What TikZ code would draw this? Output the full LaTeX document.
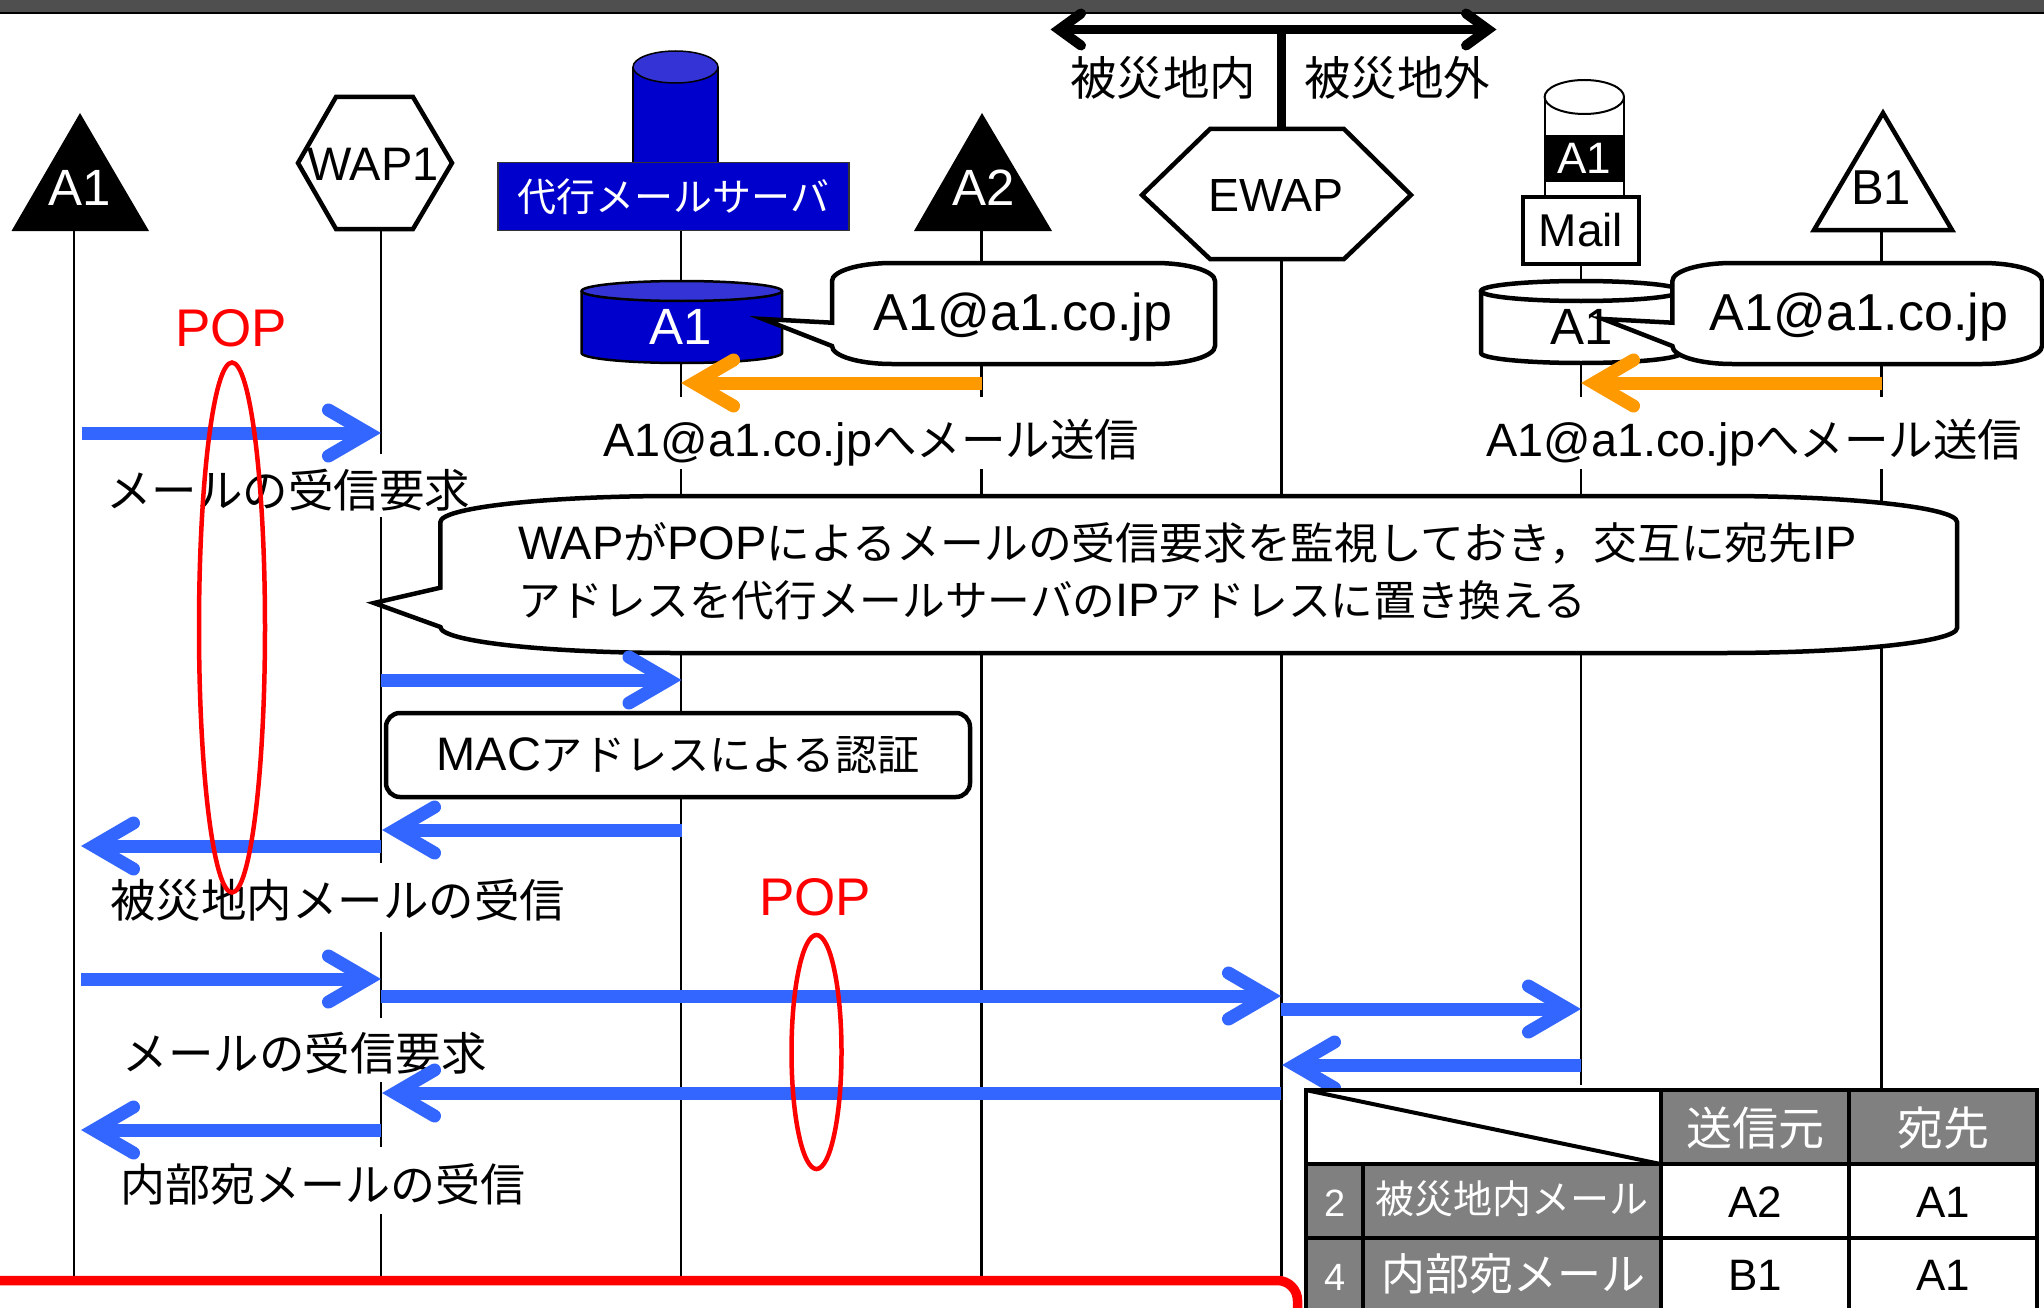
\documentclass[tikz,border=0pt]{standalone}
\usepackage{fontspec}
\setmainfont{Liberation Sans}
\newfontfamily\jp{Noto Sans CJK JP}
\usetikzlibrary{arrows.meta}
\definecolor{flowblue}{HTML}{3366FF}
\definecolor{floworange}{HTML}{FF9900}
\definecolor{srvblue}{HTML}{0000CC}
\definecolor{srvtop}{HTML}{3333D6}
\definecolor{cellgray}{HTML}{808080}
\makeatletter
\pgfdeclarearrow{name=ChevA,
  setup code={\pgfarrowssettipend{0pt}\pgfarrowssetlineend{-14pt}\pgfarrowssetbackend{-60pt}\pgfarrowssetvisualbackend{-14pt}},
  drawing code={\pgfsetlinewidth{13pt}\pgfsetroundcap\pgfsetmiterjoin
    \pgfpathmoveto{\pgfqpoint{-52.5pt}{23pt}}\pgfpathlineto{\pgfqpoint{-13pt}{0pt}}\pgfpathlineto{\pgfqpoint{-52.5pt}{-23pt}}\pgfusepathqstroke}}
\pgfdeclarearrow{name=ChevB,
  setup code={\pgfarrowssettipend{0pt}\pgfarrowssetlineend{-10pt}\pgfarrowssetbackend{-40pt}\pgfarrowssetvisualbackend{-10pt}},
  drawing code={\pgfsetlinewidth{10pt}\pgfsetroundcap\pgfsetmiterjoin
    \pgfpathmoveto{\pgfqpoint{-32pt}{16pt}}\pgfpathlineto{\pgfqpoint{-10pt}{0pt}}\pgfpathlineto{\pgfqpoint{-32pt}{-16pt}}\pgfusepathqstroke}}
\makeatother
\tikzset{
  x=1pt,y=-1pt,
  life/.style={draw=black,line width=2.1pt},
  flow/.style={draw=flowblue,line width=13pt,-{ChevA}},
  mailflow/.style={draw=floworange,line width=13pt,-{ChevA}},
  lab/.style={inner sep=0pt,font=\fontsize{46.8}{54}\selectfont},
  mask/.style={fill=white},
  pure/.style={inner sep=0pt,font=\fontsize{47}{54}\selectfont},
  redt/.style={inner sep=0pt,font=\fontsize{53}{58}\selectfont,text=red},
  redring/.style={draw=red,line width=4.5pt},
  cell/.style={draw=black,line width=4pt},
  hcell/.style={cell,fill=cellgray},
  ctext/.style={inner sep=0pt,text=white,font=\fontsize{46}{52}\selectfont},
}
\newcommand{\J}[1]{{\jp\fontsize{44.5}{52}\selectfont #1}}
\newcommand{\JL}[1]{{\jp\fontsize{45.5}{52}\selectfont #1}}
\newcommand{\JF}[1]{{\jp\fontsize{45}{52}\selectfont #1}}
\newcommand{\JK}[1]{{\jp\fontsize{42.2}{52}\selectfont #1}}
\newcommand{\JM}[1]{{\jp\fontsize{42.7}{52}\selectfont #1}}
\newcommand{\JN}[1]{{\jp\fontsize{43.8}{52}\selectfont #1}}
\begin{document}
\begin{tikzpicture}
\useasboundingbox (0,0) rectangle (2044,1308);
\fill[white] (0,0) rectangle (2044,1308);
\fill[black!69] (0,0) rectangle (2044,12);
\draw[black,line width=2.5pt] (0,13) -- (2044,13);

% lifeline anchors
\coordinate (a1t) at (74,231);   \coordinate (a1b) at (74,1276);
\coordinate (w1t) at (381,229);  \coordinate (w1b) at (381,1276);
\coordinate (svt) at (681,231);  \coordinate (svb) at (681,1276);
\coordinate (a2t) at (981.5,231);\coordinate (a2b) at (981.5,1276);
\coordinate (ewt) at (1281.5,259);\coordinate (ewb) at (1281.5,1276);
\coordinate (mlt) at (1581,264); \coordinate (mlb) at (1581,1085);
\coordinate (b1t) at (1881.5,230);\coordinate (b1b) at (1881.5,1090);
\foreach \s/\e in {a1t/a1b,w1t/w1b,svt/svb,a2t/a2b,ewt/ewb,mlt/mlb,b1t/b1b} \draw[life] (\s) -- (\e);

% left actors
\path[fill=black] (80,113) -- (149,231) -- (11.5,231) -- cycle;
\node[inner sep=0pt,text=white,font=\fontsize{51}{56}\selectfont] (lA1) at (79.5,188) {A1};
\path[draw=black,fill=white,line width=4.5pt,miter limit=4] (336,97) -- (413,97) -- (452,163) -- (413,229) -- (336,229) -- (298,163) -- cycle;
\node[inner sep=0pt,font=\fontsize{47}{52}\selectfont] (lW1) at (373,164) {WAP1};

% server
\path[draw=black,fill=srvblue,line width=1.5pt] (633,67) -- (633,163) -- (718,163) -- (718,67);
\path[draw=black,fill=srvtop,line width=1.5pt] (675.5,67) ellipse [x radius=42.5,y radius=16];
\node[draw=black!80,fill=srvblue,line width=1.5pt,minimum width=351pt,minimum height=68pt,inner sep=0pt,text=white] (server) at (673.3,196.7) {\raisebox{-3pt}{\fontsize{39}{44}\selectfont\jp 代行メールサーバ}};

% A2
\path[fill=black] (982,113) -- (1052,231) -- (914,231) -- cycle;
\node[inner sep=0pt,text=white,font=\fontsize{51}{56}\selectfont] (lA2) at (984,188) {A2};

% white areas behind labels, where the lifelines stop
\path[mask] (602,397) rectangle (1141,469);
\path[mask] (1485,397) rectangle (2024,469);
\path[mask] (104,454) rectangle (472,517);
\path[mask] (108,863) rectangle (567,932);
\path[mask] (120,1018) rectangle (489,1082);
\path[mask] (117,1147) rectangle (528,1214);
\node[lab] (s1) at (871.5,443) {A1@a1.co.jp\J{へメール送信}};
\node[lab] (s2) at (1754.5,443) {A1@a1.co.jp\J{へメール送信}};
\node[lab] (r1) at (288,490) {\JL{メールの受信要求}};
\node[lab] (r2) at (337.5,900) {\JL{被災地内メールの受信}};
\node[lab] (r3) at (304.5,1053) {\JL{メールの受信要求}};
\node[lab] (r4) at (322.5,1184) {\JF{内部宛メールの受信}};

% top double arrow
\coordinate (bl) at (1049,29.5); \coordinate (br) at (1498,29.5); \coordinate (bm) at (1281.5,29.5); \coordinate (bd) at (1281.5,131);
\draw[draw=black,line width=9.5pt,{ChevB}-{ChevB}] (bl) -- (br);
\draw[draw=black,line width=9.5pt] (bm) -- (bd);
\node[pure] (zin) at (1163,78) {\jp\fontsize{46.5}{50}\selectfont 被災地内};
\node[pure] (zout) at (1397,78) {\jp\fontsize{46.5}{50}\selectfont 被災地外};

% EWAP
\path[draw=black,fill=white,line width=4.5pt] (1210,129) -- (1344,129) -- (1411,195) -- (1344,259) -- (1210,259) -- (1142,195) -- cycle;
\node[inner sep=0pt,font=\fontsize{46.5}{52}\selectfont] (lE) at (1276,195.5) {EWAP};

% A1 mail stack
\path[draw=black,fill=white,line width=2pt] (1544.6,97) -- (1544.6,197) -- (1624,197) -- (1624,97);
\path[draw=black,fill=white,line width=2pt] (1584.3,97) ellipse [x radius=39.7,y radius=17];
\node[fill=black,minimum width=79.4pt,minimum height=47pt,inner sep=0pt,text=white,font=\fontsize{44}{50}\selectfont] (lM) at (1584.3,158.5) {\raisebox{-1.5pt}{A1}};
\node[draw=black,fill=white,line width=4.5pt,minimum width=116pt,minimum height=67pt,inner sep=0pt,font=\fontsize{46}{52}\selectfont] (mail) at (1581,230.5) {\raisebox{-1.5pt}{Mail}};

% B1
\path[draw=black,fill=white,line width=4.5pt] (1883,113) -- (1952,230) -- (1814,230) -- cycle;
\node[inner sep=0pt,font=\fontsize{49}{54}\selectfont] (lB1) at (1881,187.5) {B1};

% mailboxes
\path[draw=black,fill=srvblue,line width=2.5pt] (581.6,291) -- (581.6,353) arc[start angle=180,end angle=360,x radius=100.2,y radius=-10] -- (782,291);
\path[draw=black,fill=srvtop,line width=2.5pt] (681.8,291) ellipse [x radius=100.2,y radius=10];
\node[inner sep=0pt,text=white,font=\fontsize{51}{56}\selectfont] (boxA) at (680.5,327) {A1};
\path[draw=black,fill=white,line width=4.5pt] (1481,291) -- (1481,353) arc[start angle=180,end angle=360,x radius=100,y radius=-10] -- (1681,291);
\path[draw=black,fill=white,line width=4.5pt] (1581,291) ellipse [x radius=100,y radius=10];
\node[inner sep=0pt,font=\fontsize{51}{56}\selectfont] (boxB) at (1582,327) {A1};

% small callouts
\path[draw=black,fill=white,line width=4.5pt] (832,281) arc[start angle=180,end angle=90,x radius=60,y radius=-18] -- (1155,263) arc[start angle=90,end angle=0,x radius=60,y radius=-18] -- (1215,346) arc[start angle=0,end angle=-90,x radius=60,y radius=-18] -- (892,364) arc[start angle=-90,end angle=-180,x radius=60,y radius=-18] -- (763,319) -- (832,322.7) -- cycle;
\node[inner sep=0pt,font=\fontsize{52}{58}\selectfont] (c1) at (1023,317) {A1@a1.co.jp};
\path[draw=black,fill=white,line width=4.5pt] (1672.4,281) arc[start angle=180,end angle=90,x radius=60,y radius=-18] -- (1982,263) arc[start angle=90,end angle=0,x radius=60,y radius=-18] -- (2042,346) arc[start angle=0,end angle=-90,x radius=60,y radius=-18] -- (1732.4,364) arc[start angle=-90,end angle=-180,x radius=60,y radius=-18] -- (1603,319) -- (1672.4,322.7) -- cycle;
\node[inner sep=0pt,font=\fontsize{52}{58}\selectfont] (c2) at (1859,317) {A1@a1.co.jp};

% big callout
\path[draw=black,fill=white,line width=4.5pt] (440.4,522) arc[start angle=180,end angle=90,x radius=235,y radius=-26] -- (1722,496) arc[start angle=90,end angle=0,x radius=235,y radius=-26] -- (1957,628) arc[start angle=0,end angle=-90,x radius=235,y radius=-25] -- (675.4,653) arc[start angle=-90,end angle=-180,x radius=235,y radius=-26] -- (374,603) -- (440.4,587.7) -- cycle;
\node[anchor=west,inner sep=0pt,font=\fontsize{47}{52}\selectfont] (bt1) at (518,543) {WAP\JN{が}POP\JN{によるメールの受信要求を監視しておき，交互に宛先}IP};
\node[anchor=west,inner sep=0pt,font=\fontsize{47}{52}\selectfont] (bt2) at (518,600) {\JM{アドレスを代行メールサーバの}IP\JM{アドレスに置き換える}};

% MAC
\node[draw=black,fill=white,line width=4.5pt,rounded corners=14pt,minimum width=584pt,minimum height=84pt,inner sep=0pt,font=\fontsize{47}{52}\selectfont] (mac) at (678,755) {MAC\JK{アドレスによる認証}};

% arrow anchors
\coordinate (f1a) at (81.6,433); \coordinate (f1b) at (381,433);
\coordinate (f2a) at (381,680);  \coordinate (f2b) at (681.5,680);
\coordinate (f3a) at (681.5,830);\coordinate (f3b) at (382,830);
\coordinate (f4a) at (381,846);  \coordinate (f4b) at (81,846);
\coordinate (f5a) at (81,979);   \coordinate (f5b) at (381,979);
\coordinate (f6a) at (381,996);  \coordinate (f6b) at (1281,996);
\coordinate (f7a) at (1281,1009);\coordinate (f7b) at (1581,1009);
\coordinate (f8a) at (1581,1065);\coordinate (f8b) at (1282,1065);
\coordinate (f9a) at (1281,1093);\coordinate (f9b) at (382,1093);
\coordinate (f10a) at (381,1130);\coordinate (f10b) at (81,1130);
\coordinate (o1a) at (981.5,383);\coordinate (o1b) at (681,383);
\coordinate (o2a) at (1881.5,383);\coordinate (o2b) at (1581,383);
\foreach \i in {1,...,10} \draw[flow] (f\i a) -- (f\i b);
\draw[mailflow] (o1a) -- (o1b);
\draw[mailflow] (o2a) -- (o2b);

% POP marks
\node[redt] (pop1) at (231,328) {POP};
\node[redt] (pop2) at (815,897) {POP};
\path[redring] (232,627.5) ellipse [x radius=33,y radius=265];
\path[redring] (816.5,1052) ellipse [x radius=25,y radius=117];

% red frame
\draw[red,line width=9.5pt,rounded corners=20pt] (-20,1280.5) -- (1297.5,1280.5) -- (1297.5,1340);

% table
\path[draw=black,fill=white,line width=4pt] (1305.6,1090) rectangle (1660.5,1164);
\draw[cell] (1305.6,1090) -- (1660.5,1164);
\node[hcell,minimum width=188.2pt,minimum height=74pt,inner sep=0pt] (h1) at (1754.6,1127) {};
\node[hcell,minimum width=188.7pt,minimum height=74pt,inner sep=0pt] (h2) at (1943,1127) {};
\path[hcell] (1305.6,1164) rectangle (1363,1237.7);
\path[hcell] (1363,1164) rectangle (1660.5,1237.7);
\path[hcell] (1305.6,1237.7) rectangle (1363,1330);
\path[hcell] (1363,1237.7) rectangle (1660.5,1330);
\path[cell,fill=white] (1660.5,1164) rectangle (1848.7,1237.7);
\path[cell,fill=white] (1848.7,1164) rectangle (2037.4,1237.7);
\path[cell,fill=white] (1660.5,1237.7) rectangle (1848.7,1330);
\path[cell,fill=white] (1848.7,1237.7) rectangle (2037.4,1330);
\node[ctext] (t1) at (1755,1128) {\jp 送信元};
\node[ctext] (t2) at (1943.5,1128) {\jp 宛先};
\node[ctext,font=\fontsize{38}{44}\selectfont] (t3) at (1335,1203) {2};
\node[ctext,font=\fontsize{39}{44}\selectfont] (t4) at (1512,1199) {\jp 被災地内メール};
\node[ctext,font=\fontsize{38}{44}\selectfont] (t5) at (1335,1277) {4};
\node[ctext,font=\fontsize{44}{50}\selectfont] (t6) at (1513,1274) {\jp 内部宛メール};
\node[ctext,text=black,font=\fontsize{44}{50}\selectfont] (t7) at (1755,1202) {A2};
\node[ctext,text=black,font=\fontsize{44}{50}\selectfont] (t8) at (1943,1202) {A1};
\node[ctext,text=black,font=\fontsize{44}{50}\selectfont] (t9) at (1755,1275) {B1};
\node[ctext,text=black,font=\fontsize{44}{50}\selectfont] (t10) at (1943,1275) {A1};
\end{tikzpicture}
\end{document}
